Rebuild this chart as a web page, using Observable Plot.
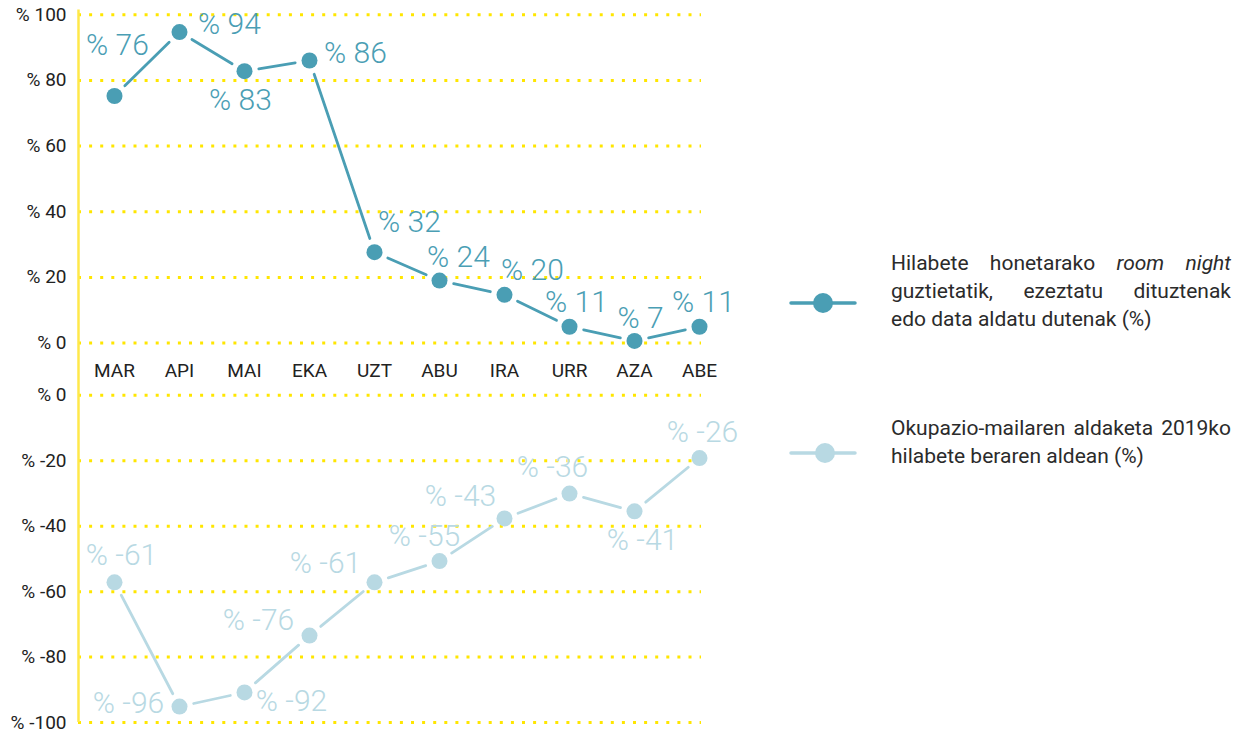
<!DOCTYPE html>
<html>
<head>
<meta charset="utf-8">
<script src="https://cdn.jsdelivr.net/npm/d3@7"></script>
<script src="https://cdn.jsdelivr.net/npm/@observablehq/plot@0.6"></script>
<style>
  html, body { margin: 0; padding: 0; background: #fff; }
  #wrap { position: relative; width: 1236px; height: 733px; overflow: hidden; font-family: Roboto, "Open Sans", sans-serif; }
  #chart { position: absolute; left: 0; top: 0; }
  .leg-text { position: absolute; left: 891px; width: 340px; font-size: 21px; line-height: 28px; color: #2b2b2b; }
  .leg-text div { white-space: nowrap; }
  .leg-text .j { text-align: justify; text-align-last: justify; }
  .leg-icon { position: absolute; left: 789px; }
</style>
</head>
<body>
<div id="wrap">
  <div id="chart"></div>
  <svg class="leg-icon" style="top:292px" width="68" height="22"><line x1="2" x2="66" y1="11" y2="11" stroke="#4A9EB4" stroke-width="3.5" stroke-linecap="round"/><circle cx="34" cy="11" r="10" fill="#4A9EB4"/></svg>
  <div class="leg-text" style="top:249px">
    <div class="j">Hilabete honetarako <i>room night</i></div>
    <div class="j">guztietatik, ezeztatu dituztenak</div>
    <div>edo data aldatu dutenak (%)</div>
  </div>
  <svg class="leg-icon" style="top:442px" width="68" height="22"><line x1="2" x2="66" y1="11" y2="11" stroke="#B8D9E3" stroke-width="3.5" stroke-linecap="round"/><circle cx="36" cy="11" r="10" fill="#B8D9E3"/></svg>
  <div class="leg-text" style="top:414px">
    <div class="j">Okupazio-mailaren aldaketa 2019ko</div>
    <div>hilabete beraren aldean (%)</div>
  </div>
</div>
<script>
// ---------- data ----------
const months = ["MAR", "API", "MAI", "EKA", "UZT", "ABU", "IRA", "URR", "AZA", "ABE"];
const cancelledShare = [76, 94, 83, 86, 32, 24, 20, 11, 7, 11];
const occupancyChange = [-61, -96, -92, -76, -61, -55, -43, -36, -41, -26];
const topTicks = [0, 20, 40, 60, 80, 100];
const bottomTicks = [0, -20, -40, -60, -80, -100];

// ---------- label placement (pixel nudges, text centre relative to point) ----------
const cancelledNudge = [[3,-51],[50,-8],[-4,29],[46,-7],[35,-30],[19,-23],[28,-24],[7,-24],[6,-23],[4,-24]];
const occupancyNudge = [[7,-27],[-51,-3],[47,9],[-51,-15],[-49,-19],[-15,-25],[-44,-22],[-17,-26],[8,29],[3,-26]];

// ---------- styles ----------
const dark = "#4A9EB4";
const light = "#B8D9E3";
const gridYellow = "#FFE600";
const axisYellow = "#FFE84A";

// The original draws the two gridded panels slightly compressed with respect to the plotted values
const topPos = t => 6.4 + 0.925 * t;
const bottomPos = t => -8.3 + 0.922 * t;

const topRows = months.map((m, i) => ({month: m, value: cancelledShare[i], nudge: cancelledNudge[i]}));
const bottomRows = months.map((m, i) => ({month: m, value: occupancyChange[i], nudge: occupancyNudge[i]}));
const segs = rows => rows.slice(1).map((d, i) => ({m1: rows[i].month, v1: rows[i].value, m2: d.month, v2: d.value}));

const tickRows = [
  ...topTicks.map(t => ({pos: topPos(t), label: "% " + t})),
  ...bottomTicks.map(t => ({pos: bottomPos(t), label: "% " + t}))
];
const monthLabelY = (topPos(0) + bottomPos(0)) / 2;

const labelMarks = (rows, color) => rows.map(d =>
  Plot.text([d], {
    x: "month", y: "value", text: r => "% " + r.value,
    dx: d.nudge[0], dy: d.nudge[1],
    fill: color, fontSize: 30, fontWeight: 300, fontFamily: "Roboto",
    textAnchor: "middle", lineAnchor: "middle"
  })
);

const chart = Plot.plot({
  width: 1236,
  height: 733,
  marginTop: 10.3,
  marginBottom: 12.7,
  marginLeft: 78,
  marginRight: 535,
  x: {type: "point", domain: months, range: [112, 701], padding: 0, axis: null},
  y: {domain: [-100, 100], axis: null},
  style: {fontFamily: "Roboto", background: "#fff"},
  marks: [
    Plot.ruleY(tickRows, {y: "pos", stroke: gridYellow, strokeWidth: 3, strokeDasharray: "3,8.1"}),
    Plot.frame({anchor: "left", stroke: axisYellow, strokeWidth: 2.5}),
    Plot.text(tickRows, {y: "pos", text: "label", frameAnchor: "left", textAnchor: "end", dx: -12, fontSize: 19, fill: "#222", lineAnchor: "middle"}),
    Plot.text(months, {x: d => d, y: () => monthLabelY, text: d => d, fontSize: 19, fill: "#222", dy: 2, lineAnchor: "middle"}),
    Plot.arrow(segs(topRows), {x1: "m1", y1: "v1", x2: "m2", y2: "v2", headLength: 0, inset: 14.5, stroke: dark, strokeWidth: 2.8}),
    Plot.arrow(segs(bottomRows), {x1: "m1", y1: "v1", x2: "m2", y2: "v2", headLength: 0, inset: 14.5, stroke: light, strokeWidth: 2.8}),
    Plot.dot(topRows, {x: "month", y: "value", r: 8, fill: dark}),
    Plot.dot(bottomRows, {x: "month", y: "value", r: 8, fill: light}),
    ...labelMarks(topRows, dark),
    ...labelMarks(bottomRows, light)
  ]
});
document.getElementById("chart").appendChild(chart);
</script>
</body>
</html>
